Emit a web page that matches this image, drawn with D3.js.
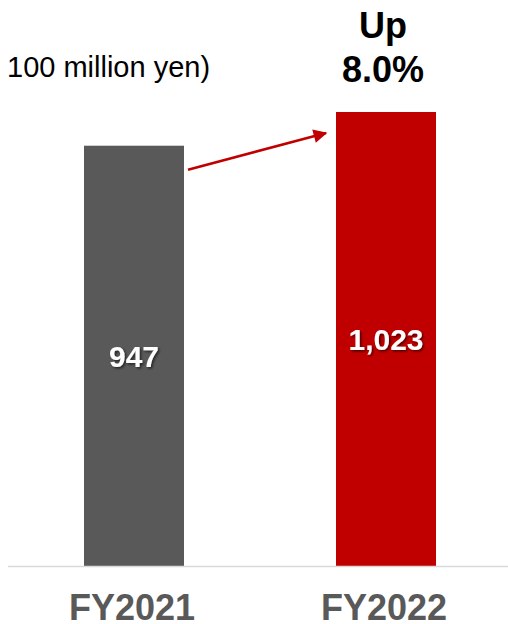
<!DOCTYPE html>
<html>
<head>
<meta charset="utf-8">
<script src="https://cdn.jsdelivr.net/npm/d3@7"></script>
<style>
  html, body { margin: 0; padding: 0; background: #fff; }
  svg { display: block; font-family: Arial, "Liberation Sans", sans-serif; }
</style>
</head>
<body>
<svg id="chart" width="508" height="624"></svg>
<script>
const categories = ["FY2021", "FY2022"];
const values = [947, 1023];
const valueLabels = ["947", "1,023"];
const barColors = ["#595959", "#C00000"];
const unitLabel = "100 million yen)";
const growthLabel = ["Up", "8.0%"];

const svg = d3.select("#chart");
const W = 508, H = 624;
const baseY = 566;

const x = d3.scalePoint().domain(categories).range([134, 386]);
const barW = 100;
const y = d3.scaleLinear().domain([0, 1050]).range([baseY, 100]);

const defs = svg.append("defs");
const f = defs.append("filter").attr("id", "shadow").attr("x", "-20%").attr("y", "-20%").attr("width", "150%").attr("height", "150%");
f.append("feDropShadow").attr("dx", 1.5).attr("dy", 1.5).attr("stdDeviation", 1).attr("flood-color", "#000").attr("flood-opacity", 0.6);

defs.append("marker")
  .attr("id", "arrowhead")
  .attr("viewBox", "0 0 10 10")
  .attr("refX", 9).attr("refY", 5)
  .attr("markerWidth", 6).attr("markerHeight", 5.5)
  .attr("markerUnits", "strokeWidth")
  .attr("orient", "auto")
  .append("path").attr("d", "M0,0 L10,5 L0,10 Z").attr("fill", "#C00000");

svg.selectAll("rect.bar").data(categories).enter().append("rect")
  .attr("class", "bar")
  .attr("x", d => x(d) - barW / 2)
  .attr("width", barW)
  .attr("y", (d, i) => y(values[i]))
  .attr("height", (d, i) => baseY - y(values[i]))
  .attr("fill", (d, i) => barColors[i]);

svg.append("line")
  .attr("x1", 8).attr("x2", W)
  .attr("y1", baseY + 0.5).attr("y2", baseY + 0.5)
  .attr("stroke", "#d9d9d9").attr("stroke-width", 1.5);

svg.selectAll("text.val").data(categories).enter().append("text")
  .attr("class", "val")
  .attr("x", d => x(d))
  .attr("y", (d, i) => (y(values[i]) + baseY) / 2 + 11)
  .attr("text-anchor", "middle")
  .attr("fill", "#fff")
  .attr("font-weight", "bold")
  .attr("font-size", 30)
  .attr("filter", "url(#shadow)")
  .text((d, i) => valueLabels[i]);

svg.selectAll("text.cat").data(categories).enter().append("text")
  .attr("class", "cat")
  .attr("x", d => x(d) - 2)
  .attr("y", 620)
  .attr("text-anchor", "middle")
  .attr("fill", "#595959")
  .attr("font-weight", "bold")
  .attr("font-size", 36)
  .text(d => d);

svg.append("text")
  .attr("x", 7).attr("y", 77)
  .attr("font-size", 29)
  .attr("fill", "#000")
  .text(unitLabel);

svg.selectAll("text.growth").data(growthLabel).enter().append("text")
  .attr("class", "growth")
  .attr("x", x(categories[1]) - 3)
  .attr("y", (d, i) => 38 + i * 44)
  .attr("text-anchor", "middle")
  .attr("font-weight", "bold")
  .attr("font-size", 36)
  .attr("fill", "#000")
  .text(d => d);

svg.append("line")
  .attr("x1", x(categories[0]) + barW / 2 + 4)
  .attr("y1", y(values[0]) + 24)
  .attr("x2", x(categories[1]) - barW / 2 - 10)
  .attr("y2", y(values[1]) + 21)
  .attr("stroke", "#C00000")
  .attr("stroke-width", 2.5)
  .attr("marker-end", "url(#arrowhead)");
</script>
</body>
</html>
